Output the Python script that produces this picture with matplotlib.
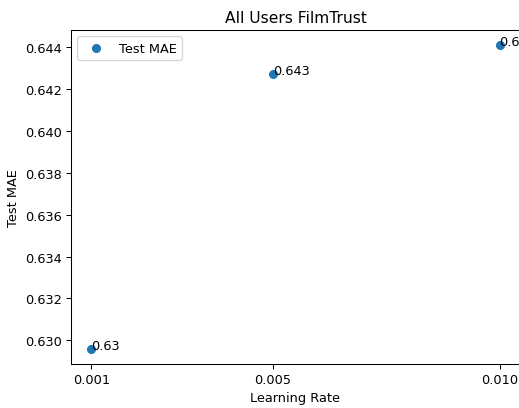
import matplotlib
matplotlib.use("Agg")
import matplotlib.pyplot as plt

learning_rates = [0.001, 0.005, 0.010]
test_mae = [0.62960, 0.64271, 0.64408]
xtick_labels = ["0.001", "0.005", "0.010"]

DPI = 93
fig = plt.figure(figsize=(519 / DPI, 409 / DPI), dpi=DPI)
# axes run off the right edge, like the cropped original
ax = fig.add_axes([71 / 519, 44 / 409, 449 / 519, 334 / 409])

ax.scatter(learning_rates, test_mae, label='Test MAE')
for x, y in zip(learning_rates, test_mae):
    ax.annotate(str(round(y, 3)), (x, y))

ax.set_xticks(learning_rates)
ax.set_xticklabels(xtick_labels)
ax.set_title('All Users FilmTrust')
ax.set_xlabel('Learning Rate')
ax.set_ylabel('Test MAE')
ax.legend(loc='upper left')

fig.savefig('out.png', dpi=DPI)
